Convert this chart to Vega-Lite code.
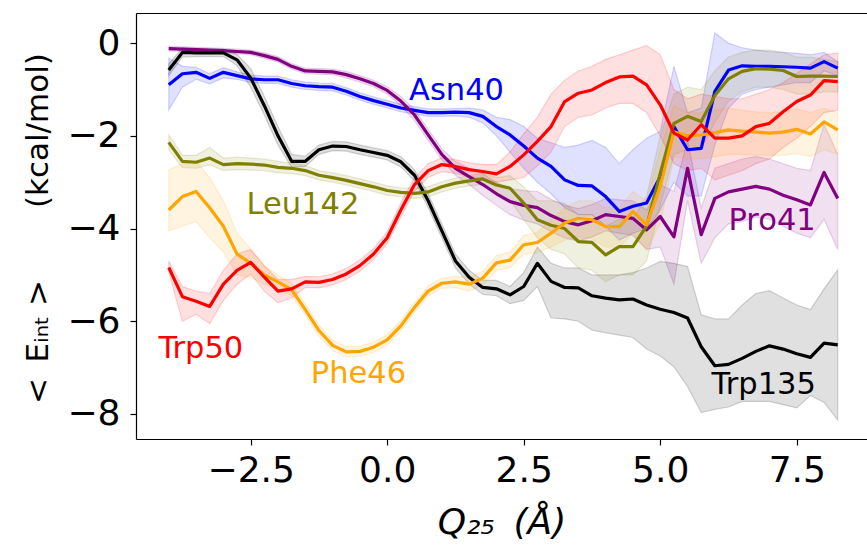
{
"$schema":"https://vega.github.io/schema/vega-lite/v6.json",
"width":731,"height":426,
"autosize":{"type":"none"},
"padding":{"left":136,"top":13,"right":0,"bottom":109},
"background":"white",
"config":{"view":{"stroke":null},"font":"DejaVu Sans"},
"datasets":{
"labels":[
{"name":"Asn40","lx":0.40,"ly":-1.22},
{"name":"Leu142","lx":-2.575,"ly":-3.68},
{"name":"Trp50","lx":-4.19,"ly":-6.80},
{"name":"Phe46","lx":-1.40,"ly":-7.34},
{"name":"Pro41","lx":6.25,"ly":-4.03},
{"name":"Trp135","lx":5.94,"ly":-7.57}
],
"series":[
{"s":"Asn40","x":-4.0,"y":-0.90,"lo":-1.44,"hi":-0.32},
{"s":"Asn40","x":-3.75,"y":-0.66,"lo":-0.95,"hi":-0.50},
{"s":"Asn40","x":-3.5,"y":-0.63,"lo":-0.78,"hi":-0.52},
{"s":"Asn40","x":-3.25,"y":-0.76,"lo":-0.88,"hi":-0.66},
{"s":"Asn40","x":-3.0,"y":-0.63,"lo":-0.75,"hi":-0.53},
{"s":"Asn40","x":-2.75,"y":-0.70,"lo":-0.78,"hi":-0.62},
{"s":"Asn40","x":-2.5,"y":-0.77,"lo":-0.85,"hi":-0.69},
{"s":"Asn40","x":-2.25,"y":-0.79,"lo":-0.87,"hi":-0.71},
{"s":"Asn40","x":-2.0,"y":-0.79,"lo":-0.87,"hi":-0.71},
{"s":"Asn40","x":-1.75,"y":-0.87,"lo":-0.95,"hi":-0.79},
{"s":"Asn40","x":-1.5,"y":-0.92,"lo":-1.00,"hi":-0.84},
{"s":"Asn40","x":-1.25,"y":-0.94,"lo":-1.02,"hi":-0.86},
{"s":"Asn40","x":-1.0,"y":-0.95,"lo":-1.03,"hi":-0.87},
{"s":"Asn40","x":-0.75,"y":-1.04,"lo":-1.12,"hi":-0.96},
{"s":"Asn40","x":-0.5,"y":-1.15,"lo":-1.23,"hi":-1.07},
{"s":"Asn40","x":-0.25,"y":-1.24,"lo":-1.32,"hi":-1.16},
{"s":"Asn40","x":0.0,"y":-1.32,"lo":-1.40,"hi":-1.24},
{"s":"Asn40","x":0.25,"y":-1.40,"lo":-1.48,"hi":-1.32},
{"s":"Asn40","x":0.5,"y":-1.45,"lo":-1.53,"hi":-1.37},
{"s":"Asn40","x":0.75,"y":-1.50,"lo":-1.58,"hi":-1.42},
{"s":"Asn40","x":1.0,"y":-1.50,"lo":-1.58,"hi":-1.42},
{"s":"Asn40","x":1.25,"y":-1.49,"lo":-1.57,"hi":-1.41},
{"s":"Asn40","x":1.5,"y":-1.50,"lo":-1.60,"hi":-1.40},
{"s":"Asn40","x":1.75,"y":-1.58,"lo":-1.72,"hi":-1.44},
{"s":"Asn40","x":2.0,"y":-1.80,"lo":-2.00,"hi":-1.60},
{"s":"Asn40","x":2.25,"y":-1.98,"lo":-2.35,"hi":-1.65},
{"s":"Asn40","x":2.5,"y":-2.22,"lo":-2.70,"hi":-1.80},
{"s":"Asn40","x":2.75,"y":-2.48,"lo":-3.00,"hi":-2.05},
{"s":"Asn40","x":3.0,"y":-2.66,"lo":-3.25,"hi":-2.15},
{"s":"Asn40","x":3.25,"y":-2.95,"lo":-3.55,"hi":-2.25},
{"s":"Asn40","x":3.5,"y":-3.07,"lo":-3.70,"hi":-2.20},
{"s":"Asn40","x":3.75,"y":-3.08,"lo":-3.70,"hi":-2.10},
{"s":"Asn40","x":4.0,"y":-3.31,"lo":-3.95,"hi":-2.25},
{"s":"Asn40","x":4.25,"y":-3.63,"lo":-4.25,"hi":-2.60},
{"s":"Asn40","x":4.5,"y":-3.52,"lo":-4.10,"hi":-2.30},
{"s":"Asn40","x":4.75,"y":-3.45,"lo":-4.00,"hi":-2.05},
{"s":"Asn40","x":5.0,"y":-2.88,"lo":-3.60,"hi":-1.90},
{"s":"Asn40","x":5.25,"y":-1.80,"lo":-3.00,"hi":-0.50},
{"s":"Asn40","x":5.5,"y":-2.30,"lo":-3.30,"hi":-1.50},
{"s":"Asn40","x":5.75,"y":-2.27,"lo":-3.30,"hi":-1.40},
{"s":"Asn40","x":6.0,"y":-1.04,"lo":-2.20,"hi":0.22},
{"s":"Asn40","x":6.25,"y":-0.58,"lo":-1.40,"hi":0.00},
{"s":"Asn40","x":6.5,"y":-0.49,"lo":-1.10,"hi":-0.10},
{"s":"Asn40","x":6.75,"y":-0.50,"lo":-1.00,"hi":-0.15},
{"s":"Asn40","x":7.0,"y":-0.50,"lo":-0.95,"hi":-0.18},
{"s":"Asn40","x":7.25,"y":-0.51,"lo":-0.90,"hi":-0.20},
{"s":"Asn40","x":7.5,"y":-0.52,"lo":-0.85,"hi":-0.22},
{"s":"Asn40","x":7.75,"y":-0.54,"lo":-0.85,"hi":-0.25},
{"s":"Asn40","x":8.0,"y":-0.40,"lo":-0.60,"hi":-0.20},
{"s":"Asn40","x":8.25,"y":-0.54,"lo":-0.70,"hi":-0.40},
{"s":"Pro41","x":-4.0,"y":-0.12,"lo":-0.17,"hi":-0.07},
{"s":"Pro41","x":-3.75,"y":-0.13,"lo":-0.18,"hi":-0.08},
{"s":"Pro41","x":-3.5,"y":-0.14,"lo":-0.19,"hi":-0.09},
{"s":"Pro41","x":-3.25,"y":-0.15,"lo":-0.20,"hi":-0.10},
{"s":"Pro41","x":-3.0,"y":-0.16,"lo":-0.21,"hi":-0.11},
{"s":"Pro41","x":-2.75,"y":-0.18,"lo":-0.23,"hi":-0.13},
{"s":"Pro41","x":-2.5,"y":-0.20,"lo":-0.25,"hi":-0.15},
{"s":"Pro41","x":-2.25,"y":-0.27,"lo":-0.33,"hi":-0.21},
{"s":"Pro41","x":-2.0,"y":-0.35,"lo":-0.41,"hi":-0.29},
{"s":"Pro41","x":-1.75,"y":-0.50,"lo":-0.56,"hi":-0.44},
{"s":"Pro41","x":-1.5,"y":-0.60,"lo":-0.66,"hi":-0.54},
{"s":"Pro41","x":-1.25,"y":-0.61,"lo":-0.67,"hi":-0.55},
{"s":"Pro41","x":-1.0,"y":-0.62,"lo":-0.68,"hi":-0.56},
{"s":"Pro41","x":-0.75,"y":-0.68,"lo":-0.75,"hi":-0.61},
{"s":"Pro41","x":-0.5,"y":-0.77,"lo":-0.84,"hi":-0.70},
{"s":"Pro41","x":-0.25,"y":-0.87,"lo":-0.94,"hi":-0.80},
{"s":"Pro41","x":0.0,"y":-1.02,"lo":-1.10,"hi":-0.94},
{"s":"Pro41","x":0.25,"y":-1.25,"lo":-1.35,"hi":-1.15},
{"s":"Pro41","x":0.5,"y":-1.55,"lo":-1.67,"hi":-1.43},
{"s":"Pro41","x":0.75,"y":-1.98,"lo":-2.10,"hi":-1.86},
{"s":"Pro41","x":1.0,"y":-2.40,"lo":-2.52,"hi":-2.28},
{"s":"Pro41","x":1.25,"y":-2.70,"lo":-2.85,"hi":-2.55},
{"s":"Pro41","x":1.5,"y":-2.88,"lo":-3.05,"hi":-2.70},
{"s":"Pro41","x":1.75,"y":-3.05,"lo":-3.28,"hi":-2.82},
{"s":"Pro41","x":2.0,"y":-3.25,"lo":-3.50,"hi":-3.00},
{"s":"Pro41","x":2.25,"y":-3.42,"lo":-3.70,"hi":-3.14},
{"s":"Pro41","x":2.5,"y":-3.50,"lo":-3.82,"hi":-3.18},
{"s":"Pro41","x":2.75,"y":-3.55,"lo":-3.90,"hi":-3.20},
{"s":"Pro41","x":3.0,"y":-3.72,"lo":-4.07,"hi":-3.37},
{"s":"Pro41","x":3.25,"y":-3.85,"lo":-4.20,"hi":-3.50},
{"s":"Pro41","x":3.5,"y":-3.92,"lo":-4.27,"hi":-3.57},
{"s":"Pro41","x":3.75,"y":-3.83,"lo":-4.18,"hi":-3.48},
{"s":"Pro41","x":4.0,"y":-3.70,"lo":-4.05,"hi":-3.35},
{"s":"Pro41","x":4.25,"y":-3.74,"lo":-4.10,"hi":-3.38},
{"s":"Pro41","x":4.5,"y":-3.78,"lo":-4.15,"hi":-3.40},
{"s":"Pro41","x":4.75,"y":-4.03,"lo":-4.45,"hi":-3.60},
{"s":"Pro41","x":5.0,"y":-3.74,"lo":-4.40,"hi":-3.05},
{"s":"Pro41","x":5.25,"y":-4.18,"lo":-5.20,"hi":-3.20},
{"s":"Pro41","x":5.5,"y":-2.70,"lo":-3.40,"hi":-2.10},
{"s":"Pro41","x":5.75,"y":-4.13,"lo":-4.75,"hi":-3.55},
{"s":"Pro41","x":6.0,"y":-3.35,"lo":-4.20,"hi":-2.70},
{"s":"Pro41","x":6.25,"y":-3.21,"lo":-3.90,"hi":-2.60},
{"s":"Pro41","x":6.5,"y":-3.15,"lo":-3.85,"hi":-2.50},
{"s":"Pro41","x":6.75,"y":-3.09,"lo":-3.75,"hi":-2.45},
{"s":"Pro41","x":7.0,"y":-3.15,"lo":-3.80,"hi":-2.50},
{"s":"Pro41","x":7.25,"y":-3.28,"lo":-3.95,"hi":-2.60},
{"s":"Pro41","x":7.5,"y":-3.38,"lo":-4.10,"hi":-2.70},
{"s":"Pro41","x":7.75,"y":-3.49,"lo":-4.20,"hi":-2.75},
{"s":"Pro41","x":8.0,"y":-2.79,"lo":-3.80,"hi":-1.75},
{"s":"Pro41","x":8.25,"y":-3.35,"lo":-4.45,"hi":-2.40},
{"s":"Trp135","x":-4.0,"y":-0.58,"lo":-0.70,"hi":-0.45},
{"s":"Trp135","x":-3.75,"y":-0.20,"lo":-0.30,"hi":-0.10},
{"s":"Trp135","x":-3.5,"y":-0.21,"lo":-0.29,"hi":-0.13},
{"s":"Trp135","x":-3.25,"y":-0.21,"lo":-0.29,"hi":-0.13},
{"s":"Trp135","x":-3.0,"y":-0.21,"lo":-0.29,"hi":-0.13},
{"s":"Trp135","x":-2.75,"y":-0.36,"lo":-0.48,"hi":-0.24},
{"s":"Trp135","x":-2.5,"y":-0.75,"lo":-0.95,"hi":-0.55},
{"s":"Trp135","x":-2.25,"y":-1.35,"lo":-1.55,"hi":-1.15},
{"s":"Trp135","x":-2.0,"y":-2.00,"lo":-2.20,"hi":-1.80},
{"s":"Trp135","x":-1.75,"y":-2.55,"lo":-2.68,"hi":-2.40},
{"s":"Trp135","x":-1.5,"y":-2.55,"lo":-2.66,"hi":-2.44},
{"s":"Trp135","x":-1.25,"y":-2.30,"lo":-2.40,"hi":-2.20},
{"s":"Trp135","x":-1.0,"y":-2.22,"lo":-2.32,"hi":-2.12},
{"s":"Trp135","x":-0.75,"y":-2.23,"lo":-2.33,"hi":-2.13},
{"s":"Trp135","x":-0.5,"y":-2.30,"lo":-2.40,"hi":-2.20},
{"s":"Trp135","x":-0.25,"y":-2.36,"lo":-2.46,"hi":-2.26},
{"s":"Trp135","x":0.0,"y":-2.42,"lo":-2.52,"hi":-2.32},
{"s":"Trp135","x":0.25,"y":-2.56,"lo":-2.67,"hi":-2.45},
{"s":"Trp135","x":0.5,"y":-2.85,"lo":-2.97,"hi":-2.73},
{"s":"Trp135","x":0.75,"y":-3.40,"lo":-3.55,"hi":-3.25},
{"s":"Trp135","x":1.0,"y":-4.05,"lo":-4.20,"hi":-3.90},
{"s":"Trp135","x":1.25,"y":-4.70,"lo":-4.85,"hi":-4.55},
{"s":"Trp135","x":1.5,"y":-5.05,"lo":-5.20,"hi":-4.90},
{"s":"Trp135","x":1.75,"y":-5.27,"lo":-5.42,"hi":-5.12},
{"s":"Trp135","x":2.0,"y":-5.30,"lo":-5.45,"hi":-5.12},
{"s":"Trp135","x":2.25,"y":-5.43,"lo":-5.62,"hi":-5.25},
{"s":"Trp135","x":2.5,"y":-5.25,"lo":-5.55,"hi":-4.95},
{"s":"Trp135","x":2.75,"y":-4.75,"lo":-5.25,"hi":-4.40},
{"s":"Trp135","x":3.0,"y":-5.14,"lo":-5.93,"hi":-4.75},
{"s":"Trp135","x":3.25,"y":-5.27,"lo":-5.95,"hi":-4.85},
{"s":"Trp135","x":3.5,"y":-5.28,"lo":-6.00,"hi":-4.85},
{"s":"Trp135","x":3.75,"y":-5.45,"lo":-6.19,"hi":-5.00},
{"s":"Trp135","x":4.0,"y":-5.50,"lo":-6.25,"hi":-5.00},
{"s":"Trp135","x":4.25,"y":-5.54,"lo":-6.30,"hi":-5.00},
{"s":"Trp135","x":4.5,"y":-5.52,"lo":-6.35,"hi":-4.95},
{"s":"Trp135","x":4.75,"y":-5.65,"lo":-6.60,"hi":-4.85},
{"s":"Trp135","x":5.0,"y":-5.74,"lo":-6.75,"hi":-4.71},
{"s":"Trp135","x":5.25,"y":-5.81,"lo":-6.98,"hi":-4.75},
{"s":"Trp135","x":5.5,"y":-5.93,"lo":-7.41,"hi":-4.82},
{"s":"Trp135","x":5.75,"y":-6.55,"lo":-7.97,"hi":-5.86},
{"s":"Trp135","x":6.0,"y":-6.96,"lo":-7.90,"hi":-5.95},
{"s":"Trp135","x":6.25,"y":-6.93,"lo":-7.85,"hi":-5.95},
{"s":"Trp135","x":6.5,"y":-6.80,"lo":-7.73,"hi":-5.65},
{"s":"Trp135","x":6.75,"y":-6.65,"lo":-7.73,"hi":-5.40},
{"s":"Trp135","x":7.0,"y":-6.53,"lo":-7.73,"hi":-5.34},
{"s":"Trp135","x":7.25,"y":-6.60,"lo":-7.80,"hi":-5.50},
{"s":"Trp135","x":7.5,"y":-6.70,"lo":-7.87,"hi":-5.65},
{"s":"Trp135","x":7.75,"y":-6.78,"lo":-7.60,"hi":-5.75},
{"s":"Trp135","x":8.0,"y":-6.47,"lo":-7.75,"hi":-5.30},
{"s":"Trp135","x":8.25,"y":-6.51,"lo":-8.13,"hi":-4.89},
{"s":"Leu142","x":-4.0,"y":-2.14,"lo":-2.30,"hi":-1.98},
{"s":"Leu142","x":-3.75,"y":-2.55,"lo":-2.68,"hi":-2.42},
{"s":"Leu142","x":-3.5,"y":-2.57,"lo":-2.70,"hi":-2.42},
{"s":"Leu142","x":-3.25,"y":-2.48,"lo":-2.62,"hi":-2.25},
{"s":"Leu142","x":-3.0,"y":-2.62,"lo":-2.75,"hi":-2.48},
{"s":"Leu142","x":-2.75,"y":-2.60,"lo":-2.73,"hi":-2.46},
{"s":"Leu142","x":-2.5,"y":-2.61,"lo":-2.74,"hi":-2.48},
{"s":"Leu142","x":-2.25,"y":-2.63,"lo":-2.75,"hi":-2.50},
{"s":"Leu142","x":-2.0,"y":-2.68,"lo":-2.80,"hi":-2.55},
{"s":"Leu142","x":-1.75,"y":-2.70,"lo":-2.81,"hi":-2.59},
{"s":"Leu142","x":-1.5,"y":-2.75,"lo":-2.86,"hi":-2.64},
{"s":"Leu142","x":-1.25,"y":-2.85,"lo":-2.95,"hi":-2.75},
{"s":"Leu142","x":-1.0,"y":-2.90,"lo":-3.00,"hi":-2.80},
{"s":"Leu142","x":-0.75,"y":-2.96,"lo":-3.06,"hi":-2.86},
{"s":"Leu142","x":-0.5,"y":-3.03,"lo":-3.13,"hi":-2.93},
{"s":"Leu142","x":-0.25,"y":-3.10,"lo":-3.20,"hi":-3.00},
{"s":"Leu142","x":0.0,"y":-3.18,"lo":-3.28,"hi":-3.08},
{"s":"Leu142","x":0.25,"y":-3.22,"lo":-3.32,"hi":-3.12},
{"s":"Leu142","x":0.5,"y":-3.24,"lo":-3.35,"hi":-3.13},
{"s":"Leu142","x":0.75,"y":-3.21,"lo":-3.32,"hi":-3.10},
{"s":"Leu142","x":1.0,"y":-3.10,"lo":-3.21,"hi":-2.99},
{"s":"Leu142","x":1.25,"y":-3.02,"lo":-3.13,"hi":-2.91},
{"s":"Leu142","x":1.5,"y":-2.97,"lo":-3.08,"hi":-2.86},
{"s":"Leu142","x":1.75,"y":-2.93,"lo":-3.05,"hi":-2.81},
{"s":"Leu142","x":2.0,"y":-3.06,"lo":-3.22,"hi":-2.90},
{"s":"Leu142","x":2.25,"y":-3.13,"lo":-3.40,"hi":-2.86},
{"s":"Leu142","x":2.5,"y":-3.45,"lo":-3.80,"hi":-3.10},
{"s":"Leu142","x":2.75,"y":-3.81,"lo":-4.20,"hi":-3.40},
{"s":"Leu142","x":3.0,"y":-3.93,"lo":-4.45,"hi":-3.40},
{"s":"Leu142","x":3.25,"y":-4.00,"lo":-4.55,"hi":-3.45},
{"s":"Leu142","x":3.5,"y":-4.28,"lo":-4.85,"hi":-3.70},
{"s":"Leu142","x":3.75,"y":-4.30,"lo":-4.90,"hi":-3.70},
{"s":"Leu142","x":4.0,"y":-4.57,"lo":-5.15,"hi":-3.95},
{"s":"Leu142","x":4.25,"y":-4.39,"lo":-5.00,"hi":-3.80},
{"s":"Leu142","x":4.5,"y":-4.39,"lo":-5.00,"hi":-3.80},
{"s":"Leu142","x":4.75,"y":-3.95,"lo":-4.70,"hi":-3.30},
{"s":"Leu142","x":5.0,"y":-2.81,"lo":-3.50,"hi":-2.00},
{"s":"Leu142","x":5.25,"y":-1.73,"lo":-2.40,"hi":-1.10},
{"s":"Leu142","x":5.5,"y":-1.58,"lo":-2.30,"hi":-0.95},
{"s":"Leu142","x":5.75,"y":-1.69,"lo":-2.30,"hi":-1.00},
{"s":"Leu142","x":6.0,"y":-1.13,"lo":-1.70,"hi":-0.60},
{"s":"Leu142","x":6.25,"y":-0.77,"lo":-1.25,"hi":-0.30},
{"s":"Leu142","x":6.5,"y":-0.61,"lo":-1.05,"hi":-0.20},
{"s":"Leu142","x":6.75,"y":-0.55,"lo":-0.95,"hi":-0.15},
{"s":"Leu142","x":7.0,"y":-0.56,"lo":-0.95,"hi":-0.15},
{"s":"Leu142","x":7.25,"y":-0.59,"lo":-1.00,"hi":-0.20},
{"s":"Leu142","x":7.5,"y":-0.72,"lo":-1.10,"hi":-0.30},
{"s":"Leu142","x":7.75,"y":-0.71,"lo":-1.10,"hi":-0.30},
{"s":"Leu142","x":8.0,"y":-0.71,"lo":-1.05,"hi":-0.35},
{"s":"Leu142","x":8.25,"y":-0.72,"lo":-1.05,"hi":-0.40},
{"s":"Phe46","x":-4.0,"y":-3.60,"lo":-4.05,"hi":-2.73},
{"s":"Phe46","x":-3.75,"y":-3.31,"lo":-3.95,"hi":-2.60},
{"s":"Phe46","x":-3.5,"y":-3.20,"lo":-3.85,"hi":-2.55},
{"s":"Phe46","x":-3.25,"y":-3.55,"lo":-4.20,"hi":-2.90},
{"s":"Phe46","x":-3.0,"y":-3.95,"lo":-4.50,"hi":-3.40},
{"s":"Phe46","x":-2.75,"y":-4.55,"lo":-5.00,"hi":-4.10},
{"s":"Phe46","x":-2.5,"y":-4.75,"lo":-5.05,"hi":-4.45},
{"s":"Phe46","x":-2.25,"y":-5.00,"lo":-5.20,"hi":-4.80},
{"s":"Phe46","x":-2.0,"y":-5.15,"lo":-5.30,"hi":-5.00},
{"s":"Phe46","x":-1.75,"y":-5.32,"lo":-5.45,"hi":-5.19},
{"s":"Phe46","x":-1.5,"y":-5.75,"lo":-5.87,"hi":-5.63},
{"s":"Phe46","x":-1.25,"y":-6.20,"lo":-6.32,"hi":-6.08},
{"s":"Phe46","x":-1.0,"y":-6.52,"lo":-6.63,"hi":-6.41},
{"s":"Phe46","x":-0.75,"y":-6.66,"lo":-6.77,"hi":-6.55},
{"s":"Phe46","x":-0.5,"y":-6.65,"lo":-6.76,"hi":-6.54},
{"s":"Phe46","x":-0.25,"y":-6.56,"lo":-6.67,"hi":-6.45},
{"s":"Phe46","x":0.0,"y":-6.40,"lo":-6.51,"hi":-6.29},
{"s":"Phe46","x":0.25,"y":-6.10,"lo":-6.21,"hi":-5.99},
{"s":"Phe46","x":0.5,"y":-5.70,"lo":-5.81,"hi":-5.59},
{"s":"Phe46","x":0.75,"y":-5.35,"lo":-5.46,"hi":-5.24},
{"s":"Phe46","x":1.0,"y":-5.18,"lo":-5.29,"hi":-5.07},
{"s":"Phe46","x":1.25,"y":-5.15,"lo":-5.27,"hi":-5.03},
{"s":"Phe46","x":1.5,"y":-5.20,"lo":-5.35,"hi":-5.05},
{"s":"Phe46","x":1.75,"y":-5.07,"lo":-5.22,"hi":-4.92},
{"s":"Phe46","x":2.0,"y":-4.74,"lo":-4.90,"hi":-4.58},
{"s":"Phe46","x":2.25,"y":-4.68,"lo":-4.85,"hi":-4.51},
{"s":"Phe46","x":2.5,"y":-4.35,"lo":-4.55,"hi":-4.15},
{"s":"Phe46","x":2.75,"y":-4.30,"lo":-4.52,"hi":-4.08},
{"s":"Phe46","x":3.0,"y":-4.10,"lo":-4.40,"hi":-3.80},
{"s":"Phe46","x":3.25,"y":-3.88,"lo":-4.25,"hi":-3.55},
{"s":"Phe46","x":3.5,"y":-3.78,"lo":-4.18,"hi":-3.40},
{"s":"Phe46","x":3.75,"y":-3.81,"lo":-4.22,"hi":-3.40},
{"s":"Phe46","x":4.0,"y":-3.96,"lo":-4.40,"hi":-3.55},
{"s":"Phe46","x":4.25,"y":-3.96,"lo":-4.40,"hi":-3.55},
{"s":"Phe46","x":4.5,"y":-3.63,"lo":-4.10,"hi":-3.20},
{"s":"Phe46","x":4.75,"y":-3.92,"lo":-4.45,"hi":-3.40},
{"s":"Phe46","x":5.0,"y":-3.09,"lo":-3.90,"hi":-2.30},
{"s":"Phe46","x":5.25,"y":-1.91,"lo":-2.45,"hi":-1.35},
{"s":"Phe46","x":5.5,"y":-2.00,"lo":-2.50,"hi":-1.50},
{"s":"Phe46","x":5.75,"y":-1.98,"lo":-2.50,"hi":-1.50},
{"s":"Phe46","x":6.0,"y":-1.93,"lo":-2.45,"hi":-1.45},
{"s":"Phe46","x":6.25,"y":-1.87,"lo":-2.40,"hi":-1.40},
{"s":"Phe46","x":6.5,"y":-1.90,"lo":-2.40,"hi":-1.45},
{"s":"Phe46","x":6.75,"y":-1.92,"lo":-2.42,"hi":-1.48},
{"s":"Phe46","x":7.0,"y":-1.94,"lo":-2.42,"hi":-1.50},
{"s":"Phe46","x":7.25,"y":-1.92,"lo":-2.42,"hi":-1.48},
{"s":"Phe46","x":7.5,"y":-1.86,"lo":-2.38,"hi":-1.42},
{"s":"Phe46","x":7.75,"y":-1.96,"lo":-2.45,"hi":-1.50},
{"s":"Phe46","x":8.0,"y":-1.70,"lo":-2.30,"hi":-1.40},
{"s":"Phe46","x":8.25,"y":-1.87,"lo":-2.40,"hi":-1.50},
{"s":"Trp50","x":-4.0,"y":-4.84,"lo":-4.95,"hi":-4.70},
{"s":"Trp50","x":-3.75,"y":-5.47,"lo":-6.00,"hi":-5.25},
{"s":"Trp50","x":-3.5,"y":-5.57,"lo":-5.85,"hi":-5.35},
{"s":"Trp50","x":-3.25,"y":-5.68,"lo":-6.05,"hi":-5.40},
{"s":"Trp50","x":-3.0,"y":-5.20,"lo":-5.55,"hi":-4.90},
{"s":"Trp50","x":-2.75,"y":-4.90,"lo":-5.20,"hi":-4.55},
{"s":"Trp50","x":-2.5,"y":-4.73,"lo":-4.98,"hi":-4.45},
{"s":"Trp50","x":-2.25,"y":-5.05,"lo":-5.35,"hi":-4.80},
{"s":"Trp50","x":-2.0,"y":-5.35,"lo":-5.60,"hi":-5.10},
{"s":"Trp50","x":-1.75,"y":-5.30,"lo":-5.50,"hi":-5.10},
{"s":"Trp50","x":-1.5,"y":-5.15,"lo":-5.27,"hi":-5.03},
{"s":"Trp50","x":-1.25,"y":-5.16,"lo":-5.28,"hi":-5.04},
{"s":"Trp50","x":-1.0,"y":-5.10,"lo":-5.22,"hi":-4.98},
{"s":"Trp50","x":-0.75,"y":-4.98,"lo":-5.10,"hi":-4.86},
{"s":"Trp50","x":-0.5,"y":-4.80,"lo":-4.92,"hi":-4.68},
{"s":"Trp50","x":-0.25,"y":-4.55,"lo":-4.67,"hi":-4.43},
{"s":"Trp50","x":0.0,"y":-4.20,"lo":-4.33,"hi":-4.07},
{"s":"Trp50","x":0.25,"y":-3.60,"lo":-3.75,"hi":-3.45},
{"s":"Trp50","x":0.5,"y":-3.05,"lo":-3.20,"hi":-2.90},
{"s":"Trp50","x":0.75,"y":-2.75,"lo":-2.90,"hi":-2.60},
{"s":"Trp50","x":1.0,"y":-2.62,"lo":-2.77,"hi":-2.47},
{"s":"Trp50","x":1.25,"y":-2.66,"lo":-2.81,"hi":-2.51},
{"s":"Trp50","x":1.5,"y":-2.73,"lo":-2.88,"hi":-2.58},
{"s":"Trp50","x":1.75,"y":-2.77,"lo":-2.92,"hi":-2.62},
{"s":"Trp50","x":2.0,"y":-2.82,"lo":-3.00,"hi":-2.62},
{"s":"Trp50","x":2.25,"y":-2.66,"lo":-2.95,"hi":-2.35},
{"s":"Trp50","x":2.5,"y":-2.41,"lo":-2.90,"hi":-1.95},
{"s":"Trp50","x":2.75,"y":-2.12,"lo":-2.65,"hi":-1.60},
{"s":"Trp50","x":3.0,"y":-1.80,"lo":-2.35,"hi":-1.10},
{"s":"Trp50","x":3.25,"y":-1.26,"lo":-1.80,"hi":-0.80},
{"s":"Trp50","x":3.5,"y":-1.08,"lo":-1.60,"hi":-0.60},
{"s":"Trp50","x":3.75,"y":-1.01,"lo":-1.55,"hi":-0.50},
{"s":"Trp50","x":4.0,"y":-0.85,"lo":-1.40,"hi":-0.35},
{"s":"Trp50","x":4.25,"y":-0.73,"lo":-1.30,"hi":-0.25},
{"s":"Trp50","x":4.5,"y":-0.71,"lo":-1.30,"hi":-0.15},
{"s":"Trp50","x":4.75,"y":-0.90,"lo":-1.50,"hi":-0.05},
{"s":"Trp50","x":5.0,"y":-1.33,"lo":-2.00,"hi":-0.25},
{"s":"Trp50","x":5.25,"y":-1.94,"lo":-2.60,"hi":-1.00},
{"s":"Trp50","x":5.5,"y":-2.09,"lo":-2.75,"hi":-1.20},
{"s":"Trp50","x":5.75,"y":-1.76,"lo":-2.70,"hi":-1.10},
{"s":"Trp50","x":6.0,"y":-2.05,"lo":-2.95,"hi":-1.15},
{"s":"Trp50","x":6.25,"y":-2.05,"lo":-2.85,"hi":-1.20},
{"s":"Trp50","x":6.5,"y":-2.00,"lo":-2.75,"hi":-1.20},
{"s":"Trp50","x":6.75,"y":-1.80,"lo":-2.60,"hi":-1.10},
{"s":"Trp50","x":7.0,"y":-1.73,"lo":-2.50,"hi":-1.00},
{"s":"Trp50","x":7.25,"y":-1.48,"lo":-2.25,"hi":-0.85},
{"s":"Trp50","x":7.5,"y":-1.26,"lo":-2.05,"hi":-0.65},
{"s":"Trp50","x":7.75,"y":-1.12,"lo":-1.80,"hi":-0.45},
{"s":"Trp50","x":8.0,"y":-0.81,"lo":-1.50,"hi":-0.25},
{"s":"Trp50","x":8.25,"y":-0.83,"lo":-1.45,"hi":-0.21}
]},
"resolve":{"axis":{"x":"independent","y":"independent"}},
"layer":[
{"data":{"name":"series"},
 "mark":{"type":"area","fillOpacity":0.12,"strokeOpacity":0.16,"strokeWidth":1.2},
 "encoding":{
  "x":{"field":"x","type":"quantitative","scale":{"domain":[-4.6,8.786],"nice":false,"zero":false},
   "axis":{"values":[-2.5,0,2.5,5,7.5],"format":".1f","labelFont":"DejaVu Sans","labelFontSize":36,"labelColor":"black","labelPadding":8,"labelFlush":false,"labelOverlap":false,"labelBound":false,"tickColor":"black","tickSize":6,"tickWidth":1.2,"domainColor":"black","domainWidth":1.2,"grid":false,"title":"Q₂₅ \u2009(Å)","titleFont":"DejaVu Sans","titleFontSize":36,"titleFontWeight":"normal","titleFontStyle":"italic","titleColor":"black","titlePadding":17}},
  "y":{"field":"lo","type":"quantitative","stack":null,"scale":{"domain":[-8.54,0.65],"nice":false,"zero":false},
   "axis":{"values":[-8,-6,-4,-2,0],"format":"d","labelFont":"DejaVu Sans","labelFontSize":36,"labelColor":"black","labelPadding":10,"labelFlush":false,"labelOverlap":false,"labelBound":false,"tickColor":"black","tickSize":6,"tickWidth":1.2,"domainColor":"black","domainWidth":1.2,"grid":false,"title":"<\u2002Eᵢₙₜ\u00a0>\u2003\u2003\u00a0(kcal/mol)","titleFont":"DejaVu Sans","titleFontSize":31,"titleFontWeight":"normal","titleColor":"black","titleAlign":"center","titleBaseline":"alphabetic","titleAngle":-90,"titleX":-89,"titleY":215}},
  "y2":{"field":"hi"},
  "color":{"field":"s","type":"nominal","scale":{"domain":["Asn40","Pro41","Trp135","Leu142","Phe46","Trp50"],"range":["#0000ff","#800080","#000000","#808000","#ffa500","#ff0000"]},"legend":null},
  "stroke":{"field":"s","type":"nominal","scale":{"domain":["Asn40","Pro41","Trp135","Leu142","Phe46","Trp50"],"range":["#0000ff","#800080","#000000","#808000","#ffa500","#ff0000"]},"legend":null}
 }},
{"data":{"name":"series"},
 "mark":{"type":"line","strokeWidth":3.2,"strokeJoin":"round"},
 "encoding":{
  "x":{"field":"x","type":"quantitative","scale":{"domain":[-4.6,8.786],"nice":false,"zero":false},"axis":null},
  "y":{"field":"y","type":"quantitative","scale":{"domain":[-8.54,0.65],"nice":false,"zero":false},"axis":null},
  "color":{"field":"s","type":"nominal","scale":{"domain":["Asn40","Pro41","Trp135","Leu142","Phe46","Trp50"],"range":["#0000ff","#800080","#000000","#808000","#ffa500","#ff0000"]},"legend":null}
 }},
{"data":{"name":"labels"},
 "mark":{"type":"text","font":"DejaVu Sans","fontSize":30.5,"align":"left","baseline":"alphabetic"},
 "encoding":{
  "x":{"field":"lx","type":"quantitative","scale":{"domain":[-4.6,8.786],"nice":false,"zero":false},
   "axis":{"orient":"top","labels":false,"ticks":false,"grid":false,"title":null,"domainColor":"black","domainWidth":1.2}},
  "y":{"field":"ly","type":"quantitative","scale":{"domain":[-8.54,0.65],"nice":false,"zero":false},"axis":null},
  "text":{"field":"name"},
  "color":{"field":"name","type":"nominal","scale":{"domain":["Asn40","Pro41","Trp135","Leu142","Phe46","Trp50"],"range":["#0000ff","#800080","#000000","#808000","#ffa500","#ff0000"]},"legend":null}
 }}
]
}
